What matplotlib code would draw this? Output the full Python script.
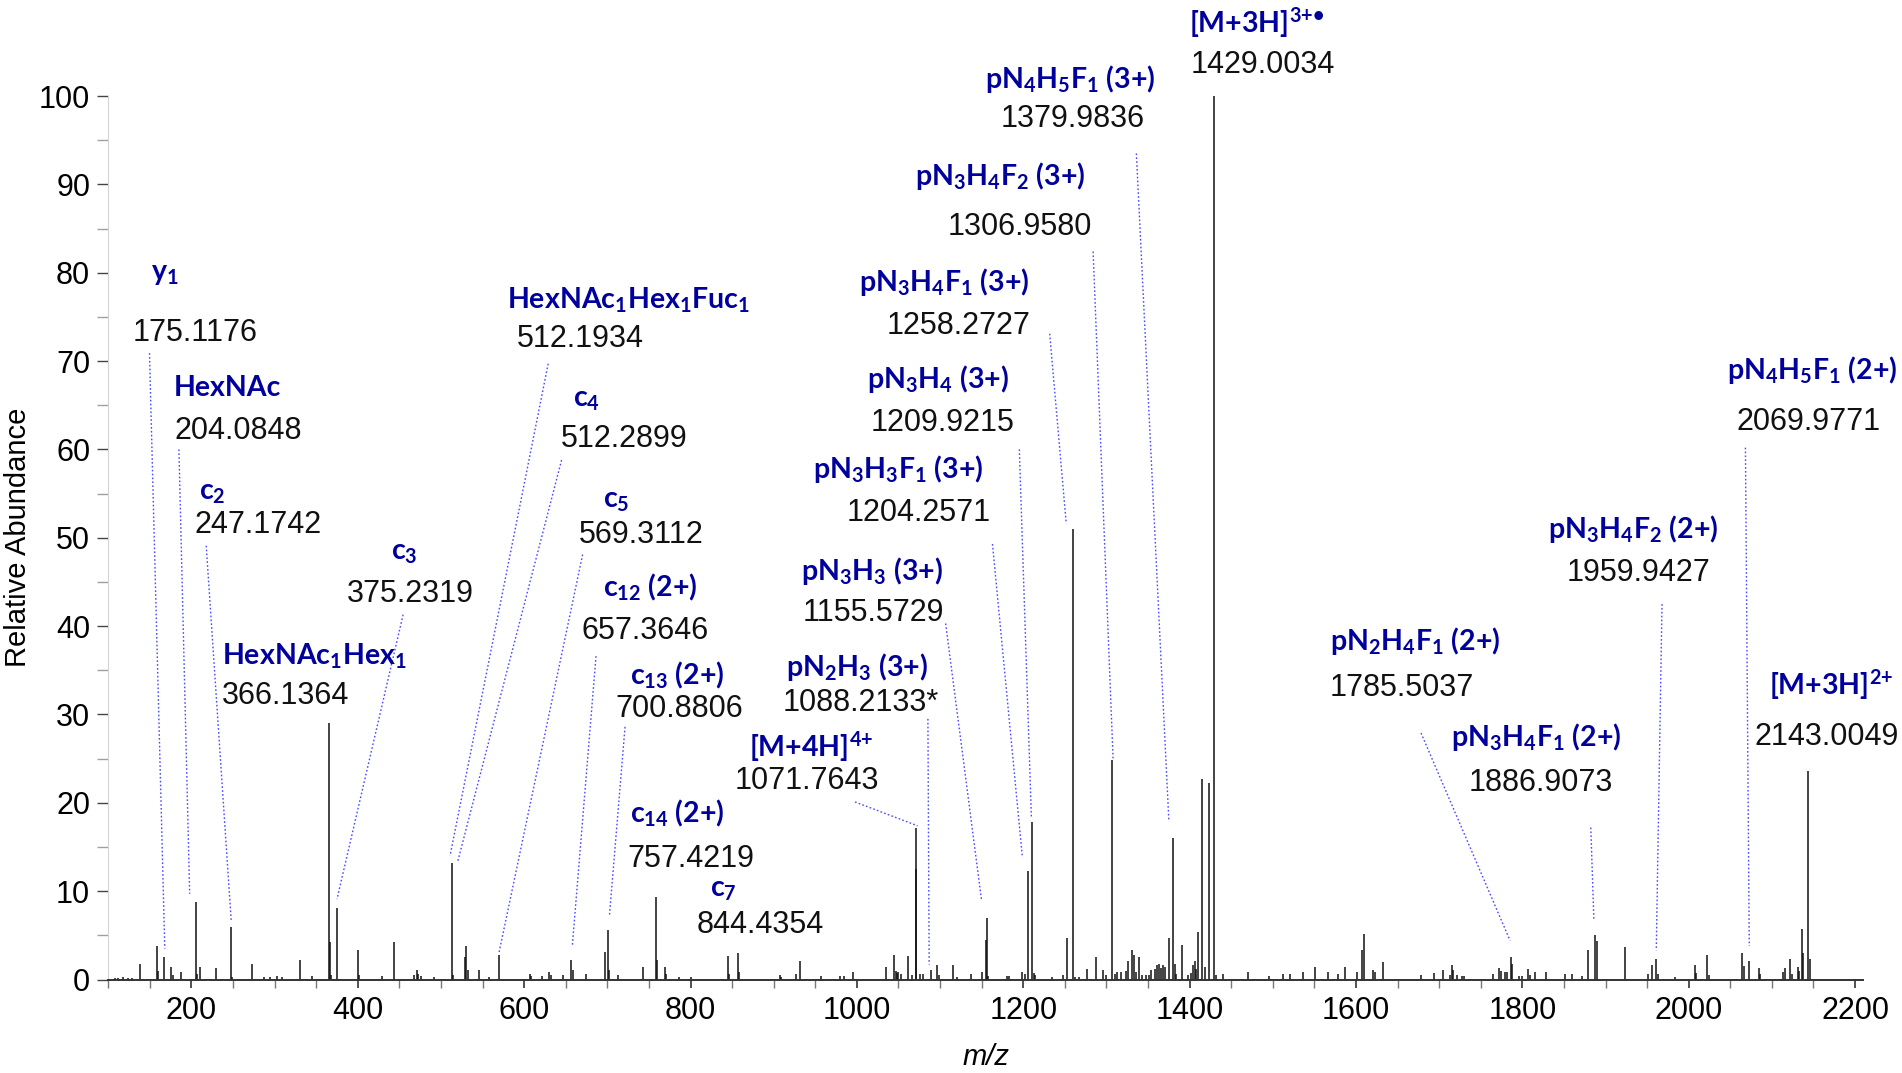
import matplotlib
matplotlib.use('Agg')
import matplotlib.pyplot as plt
from matplotlib.ticker import MultipleLocator

plt.rcParams['font.family'] = ['Liberation Sans', 'DejaVu Sans']
plt.rcParams['mathtext.fontset'] = 'custom'
plt.rcParams['mathtext.rm'] = 'Lato:bold'
plt.rcParams['mathtext.it'] = 'Lato:italic:bold'
plt.rcParams['mathtext.bf'] = 'Lato:bold'

# centroided peaks (m/z, relative abundance %)
mz = [108, 112, 118, 124, 128, 138.1, 158.9, 160.2, 167.4, 175.4, 178, 187.4,
      205.1, 206.3, 210.3, 229.1, 247.2, 248.5, 272.4, 287, 295, 303, 309,
      330.5, 345, 365.8, 367.1, 368.2, 375.3, 399.8, 401.1, 429, 443.1,
      467, 470.8, 473, 476, 492, 512.9, 514.2, 528.9, 530.5, 532, 545.7, 558,
      570.1, 607, 608.5, 622, 630.3, 631.8, 647, 656.3, 658.3, 674.4,
      697.6, 700.4, 701.9, 713, 743.3, 758.1, 759.2, 769.4, 770.8, 786, 801,
      844.7, 845.8, 857.5, 858.7, 907.6, 909, 926.5, 931.7, 957, 980, 984,
      995.8, 1035, 1044.7, 1046.5, 1048, 1050, 1053, 1061.2, 1066, 1070.6,
      1071.6, 1076, 1079, 1089.1, 1096.8, 1098.5, 1116, 1120, 1136.9, 1150.9,
      1155, 1156.1, 1158, 1180, 1183, 1198.2, 1202, 1205.5, 1210.3, 1212.5,
      1214, 1234, 1248.3, 1253.1, 1259.6, 1262, 1267, 1277.1, 1287.2, 1296.4,
      1299, 1307.2, 1310, 1313, 1317, 1324, 1326.5, 1331.3, 1333, 1336,
      1339.7, 1343, 1348, 1351, 1354, 1358, 1361.3, 1363.5, 1366, 1368.5,
      1370, 1375.4, 1379.8, 1382, 1384, 1390.6, 1398, 1402, 1404, 1406, 1408,
      1410.6, 1415.4, 1418, 1423.4, 1429.8, 1432, 1440.7, 1470.7, 1496,
      1512.8, 1521, 1536.1, 1551, 1566.9, 1578, 1586.9, 1601, 1607.8, 1609.4,
      1621, 1623, 1632.2, 1678, 1694.3, 1705.2, 1713, 1715.6, 1717, 1721,
      1727, 1730, 1765, 1772.5, 1774, 1779, 1781, 1786.2, 1787.5, 1796, 1800,
      1807.4, 1809, 1815, 1828.3, 1851, 1860, 1872, 1879.5, 1887.6, 1889.5,
      1923.6, 1951, 1956.4, 1960.5, 1962.5, 1983, 2007.8, 2009, 2021.8, 2024,
      2064.6, 2066, 2071.9, 2085.1, 2086.3, 2113, 2116, 2122, 2124, 2131.3,
      2133, 2136.1, 2137.5, 2144, 2145.5]
intensity = [0.2, 0.2, 0.25, 0.2, 0.15, 1.8, 3.8, 1.0, 2.5, 1.4, 0.5, 0.8,
             8.8, 0.6, 1.4, 1.3, 5.9, 0.3, 1.8, 0.3, 0.3, 0.4, 0.3,
             2.2, 0.4, 29.0, 4.2, 0.5, 8.1, 3.3, 0.5, 0.4, 4.2,
             0.5, 1.1, 0.6, 0.4, 0.3, 13.2, 0.5, 2.5, 3.8, 1.1, 1.1, 0.3,
             2.8, 0.6, 0.4, 0.4, 0.9, 0.5, 0.5, 2.2, 1.1, 0.6,
             3.1, 5.6, 1.1, 0.5, 1.4, 9.3, 2.2, 1.4, 0.6, 0.3, 0.3,
             2.7, 0.6, 3.0, 0.9, 0.5, 0.3, 0.6, 2.1, 0.4, 0.4, 0.4,
             0.8, 1.4, 2.8, 1.0, 0.7, 0.8, 0.6, 2.7, 0.5, 12.5,
             17.1, 0.6, 0.6, 1.1, 1.7, 0.5, 1.6, 0.3, 0.6, 0.9,
             4.5, 7.0, 0.4, 0.4, 0.4, 0.9, 0.6, 12.3, 17.8, 0.7,
             0.5, 0.3, 0.5, 4.7, 51.0, 0.3, 0.3, 1.2, 2.5, 1.1,
             0.5, 24.9, 0.6, 0.8, 0.8, 1.0, 2.1, 3.4, 2.8, 0.8,
             2.5, 0.5, 0.5, 0.5, 1.1, 1.2, 1.7, 1.8, 1.3, 1.7,
             1.4, 4.7, 16.0, 1.8, 0.6, 3.9, 0.5, 0.7, 1.6, 2.1, 1.2,
             5.4, 22.7, 1.4, 22.2, 100.0, 0.5, 0.6, 0.9, 0.4,
             0.6, 0.6, 0.9, 1.4, 0.9, 0.6, 1.4, 0.8, 3.4, 5.1,
             1.1, 0.9, 2.0, 0.5, 0.7, 1.1, 0.5, 1.7, 1.1, 0.5,
             0.4, 0.4, 0.6, 1.3, 1.0, 0.9, 0.9, 2.6, 1.8, 0.4, 0.4,
             1.2, 0.5, 0.8, 0.9, 0.6, 0.6, 0.4, 3.3, 5.0, 4.4,
             3.7, 0.6, 1.6, 2.3, 0.6, 0.3, 1.6, 0.7, 2.8, 0.5,
             3.0, 1.5, 2.1, 1.3, 0.6, 0.8, 1.3, 2.3, 0.6, 1.4,
             1.0, 5.7, 3.0, 23.6, 2.3]

# annotated ions
ion_names = ['y$_1$', 'HexNAc', 'c$_2$', 'HexNAc$_1$Hex$_1$', 'c$_3$',
             'HexNAc$_1$Hex$_1$Fuc$_1$', 'c$_4$', 'c$_5$', 'c$_{12}$ (2+)',
             'c$_{13}$ (2+)', 'c$_{14}$ (2+)', 'c$_7$', '[M+4H]$^{4{+}}$',
             'pN$_2$H$_3$ (3+)', 'pN$_3$H$_3$ (3+)', 'pN$_3$H$_3$F$_1$ (3+)',
             'pN$_3$H$_4$ (3+)', 'pN$_3$H$_4$F$_1$ (3+)', 'pN$_3$H$_4$F$_2$ (3+)',
             'pN$_4$H$_5$F$_1$ (3+)', '[M+3H]$^{3{+}\u2022}$',
             'pN$_2$H$_4$F$_1$ (2+)', 'pN$_3$H$_4$F$_1$ (2+)',
             'pN$_3$H$_4$F$_2$ (2+)', 'pN$_4$H$_5$F$_1$ (2+)', '[M+3H]$^{2{+}}$']
ion_mz = ['175.1176', '204.0848', '247.1742', '366.1364', '375.2319',
          '512.1934', '512.2899', '569.3112', '657.3646', '700.8806',
          '757.4219', '844.4354', '1071.7643', '1088.2133*', '1155.5729',
          '1204.2571', '1209.9215', '1258.2727', '1306.9580', '1379.9836',
          '1429.0034', '1785.5037', '1886.9073', '1959.9427', '2069.9771',
          '2143.0049']

# label layout (left x / centre y in data units) and dotted leaders
name_pos = [(151, 79.9), (179, 66.9), (208.7, 55.1), (237, 36.6), (439.4, 48.3),
            (579, 76.9), (658.5, 65.6), (694.3, 54.2), (695.4, 44.4),
            (727.7, 34.4), (726.7, 18.8), (824, 10.1), (870.6, 26.4),
            (914.6, 35.4), (933.4, 46.2), (946.8, 57.8), (1011.7, 68.0),
            (1002.1, 78.9), (1070.3, 91.0), (1154, 101.9), (1399.3, 108.3),
            (1568.9, 38.3), (1713.8, 27.4), (1830.6, 51.0), (2046.6, 69.0),
            (2096.9, 33.4)]
num_pos = [(129.2, 73.2), (180.2, 62.1), (203.3, 51.4), (237, 32.1), (387.4, 43.6),
           (590.8, 72.5), (644.5, 61.2), (666, 50.3), (669.2, 39.5),
           (709.5, 30.6), (723.9, 13.6), (807.2, 6.2), (853.4, 22.5),
           (910.9, 31.3), (935, 41.5), (987.6, 52.8), (1016.6, 63.0),
           (1035.4, 74.0), (1109.5, 85.2), (1172.7, 97.4), (1401, 103.5),
           (1568.9, 33.0), (1735.9, 22.3), (1852.7, 46.0), (2057.7, 63.1),
           (2078.9, 27.4)]
leaders = [(149.6, 70.9, 168, 3.5), (185, 60.0, 197.9, 9.7), (217.8, 49.1, 247.9, 6.6),
           None, (454.5, 41.3, 375, 9.1), (628.9, 69.7, 510.9, 14.0),
           (645, 58.8, 520, 13.3), (670.3, 48.1, 569.9, 3.1),
           (686.4, 36.6, 657.9, 3.8), (721.3, 28.6, 702.5, 7.2), None, None,
           (997.8, 20.1, 1073, 17.4), (1085.4, 29.5, 1086.9, 1.7),
           (1106.7, 40.3, 1149.7, 9.1), (1163, 49.3, 1199, 13.8),
           (1195.3, 60.0, 1209.8, 18.3), (1231.8, 73.1, 1251.7, 51.6),
           (1284, 82.4, 1308, 25.0), (1336, 93.5, 1375.1, 17.9), None,
           (1678.2, 27.9, 1785.3, 4.4), (1882.3, 17.2, 1886, 6.8),
           (1967.9, 42.5, 1961, 3.3), (2068.2, 60.2, 2072.8, 3.8), None]

fig = plt.figure(figsize=(19.02, 10.73), dpi=100)
ax = fig.add_axes([0.0569, 0.0871, 0.9228, 0.8234])

ax.vlines(mz, 0, intensity, color='#111111', linewidth=1.1)

for lead in leaders:
    if lead is None:
        continue
    x0, y0, x1, y1 = lead
    ax.plot([x0, x1], [y0, y1], color='#4a4aff', linewidth=1.0,
            linestyle=(0, (1.2, 1.6)), clip_on=False)

for name, num, (nx, ny), (qx, qy) in zip(ion_names, ion_mz, name_pos, num_pos):
    ax.text(nx, ny, name, color='#00009c', fontsize=20.5, fontfamily='Lato',
            fontweight='bold', ha='left', va='center', clip_on=False)
    ax.text(qx, qy, num, color='#111111', fontsize=22, ha='left', va='center',
            clip_on=False)

ax.set_xlim(100, 2210)
ax.set_ylim(0, 100)
ax.xaxis.set_major_locator(MultipleLocator(200))
ax.xaxis.set_minor_locator(MultipleLocator(50))
ax.yaxis.set_major_locator(MultipleLocator(10))
ax.yaxis.set_minor_locator(MultipleLocator(5))
ax.set_xticks(range(200, 2201, 200))

ax.spines['top'].set_visible(False)
ax.spines['right'].set_visible(False)
ax.spines['left'].set_color('#d4d4d4')
ax.spines['bottom'].set_color('#333333')
ax.spines['bottom'].set_linewidth(1.4)

ax.tick_params(axis='y', which='major', length=8, width=1, color='#444444',
               labelsize=22, pad=5)
ax.tick_params(axis='y', which='minor', length=8, width=1, color='#a0a0a0')
ax.tick_params(axis='x', which='major', length=6, width=1.2, color='#333333',
               labelsize=22, pad=6)
ax.tick_params(axis='x', which='minor', length=6, width=1, color='#777777')

ax.set_xlabel('m/z', fontsize=21, style='italic', labelpad=12)
ax.set_ylabel('Relative Abundance', fontsize=21)
ax.yaxis.set_label_coords(-0.0435, 0.5)

fig.savefig('out.png', dpi=100)
